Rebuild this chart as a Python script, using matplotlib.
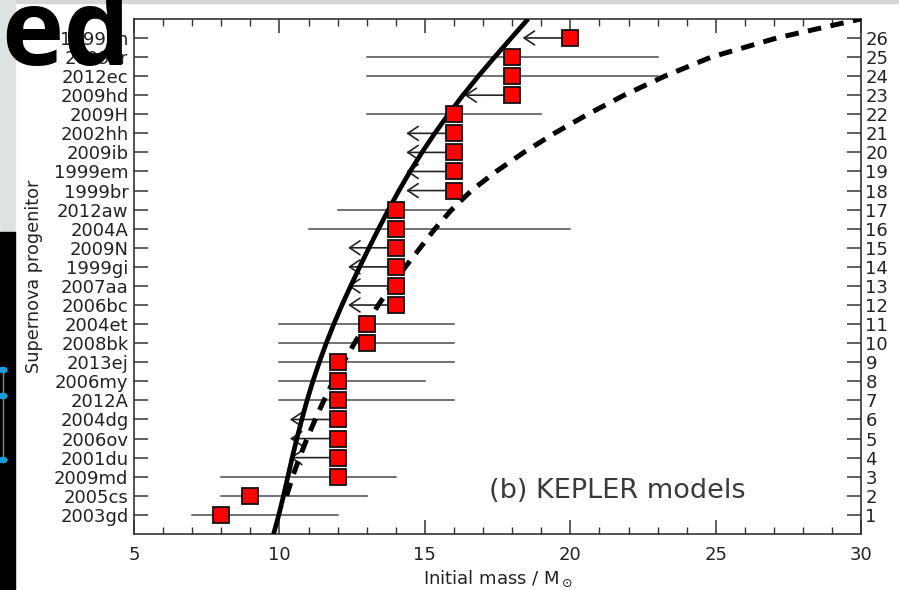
import matplotlib
matplotlib.use("Agg")
import matplotlib.pyplot as plt
from matplotlib.patches import Rectangle, Circle
from matplotlib.lines import Line2D
from matplotlib.ticker import MultipleLocator

# Supernova progenitors, bottom (row 1) to top (row 26)
names = ["2003gd", "2005cs", "2009md", "2001du", "2006ov", "2004dg", "2012A",
         "2006my", "2013ej", "2008bk", "2004et", "2006bc", "2007aa", "1999gi",
         "2009N", "2004A", "2012aw", "1999br", "1999em", "2009ib", "2002hh",
         "2009H", "2009hd", "2012ec", "2009kr", "1999an"]
mass = [8, 9, 12, 12, 12, 12, 12, 12, 12, 13, 13, 14, 14, 14, 14, 14, 14,
        16, 16, 16, 16, 16, 18, 18, 18, 20]
# mass range (None = upper limit only)
low = [7, 8, 8, None, None, None, 10, 10, 10, 10, 10, None, None, None, None,
       11, 12, None, None, None, None, 13, None, 13, 13, None]
high = [12, 13, 14, None, None, None, 16, 15, 16, 16, 16, None, None, None, None,
        20, 16, None, None, None, None, 19, None, 23, 23, None]

# model curves (mass, cumulative number)
solid_y = list(range(0, 28))
solid_x = [9.80, 9.98, 10.14, 10.29, 10.44, 10.60, 10.77, 10.95, 11.15, 11.37,
           11.61, 11.87, 12.15, 12.45, 12.76, 13.08, 13.41, 13.75, 14.11, 14.49,
           14.90, 15.34, 15.81, 16.31, 16.84, 17.40, 17.97, 18.55]
dash_y = list(range(2, 28))
dash_x = [10.25, 10.45, 10.69, 10.95, 11.23, 11.53, 11.85, 12.20, 12.58, 12.98,
          13.40, 13.85, 14.33, 14.84, 15.35, 15.92, 16.60, 17.45, 18.40, 19.45,
          20.60, 21.85, 23.25, 24.85, 27.10, 30.00]

rows = list(range(1, len(names) + 1))
arrow_len = 1.64
tc = "#222222"

fig = plt.figure(figsize=(8.99, 5.90), dpi=100)
ax = fig.add_axes([0.149, 0.095, 0.809, 0.873])

# error bars / upper limits
for r, m, lo, hi in zip(rows, mass, low, high):
    if lo is not None:
        ax.plot([lo, hi], [r, r], color="#4a4a4a", lw=1.1, zorder=2)
    else:
        ax.annotate("", xy=(m - arrow_len, r), xytext=(m, r),
                    arrowprops=dict(arrowstyle="->,head_length=0.75,head_width=0.5",
                                    color="#222222", lw=1.2,
                                    shrinkA=0, shrinkB=0), zorder=2)

ax.plot(solid_x, solid_y, color="black", lw=3.4, zorder=3, solid_capstyle="butt")
ax.plot(dash_x, dash_y, color="black", lw=3.6, ls=(0, (2.7, 1.9)), zorder=3)

ax.plot(mass, rows, ls="none", marker="s", ms=11.5, mfc="#ff0000",
        mec="#111111", mew=1.3, zorder=4)

ax.text(21.6, 2.25, "(b) KEPLER models", fontsize=19.5, color="#3a3a3a",
        ha="center", va="center")

ax.set_xlim(5, 30)
ax.set_ylim(0, 27)
ax.xaxis.set_major_locator(MultipleLocator(5))
ax.xaxis.set_minor_locator(MultipleLocator(1))
ax.set_yticks(rows)
ax.set_yticklabels(names)
ax.tick_params(axis="both", which="major", direction="in", length=10, width=1.1,
               color="#333333", labelsize=13, labelcolor=tc, top=True, pad=4)
ax.tick_params(axis="x", which="major", pad=9)
ax.tick_params(axis="x", which="minor", direction="in", length=5, width=1.0,
               color="#333333", top=True)
ax.tick_params(axis="y", which="minor", left=False, right=False)
for s in ax.spines.values():
    s.set_color("#333333")
    s.set_linewidth(1.2)

ax2 = ax.twinx()
ax2.set_ylim(0, 27)
ax2.set_yticks(rows)
ax2.set_yticklabels([str(r) for r in rows])
ax2.tick_params(axis="y", direction="in", length=10, width=1.1, color="#333333",
                labelsize=13, labelcolor=tc, pad=3)
for s in ax2.spines.values():
    s.set_visible(False)

ax.set_xlabel(r"Initial mass / M$_\odot$", fontsize=13, color=tc, labelpad=3)
ax.set_ylabel("Supernova progenitor", fontsize=12.7, color=tc, labelpad=8)

# slide surroundings visible in the screenshot
fig.patches.append(Rectangle((0, 587 / 590), 1, 3 / 590, transform=fig.transFigure,
                             color="#d6d6d6", zorder=5))
fig.patches.append(Rectangle((0, 358 / 590), 15 / 899, 232 / 590,
                             transform=fig.transFigure, color="#dde3e3", zorder=5))
fig.patches.append(Rectangle((0, 0), 15 / 899, 358 / 590,
                             transform=fig.transFigure, color="#000000", zorder=5))
fig.lines.append(Line2D([3 / 899, 3 / 899], [1 - 370 / 590, 1 - 460 / 590],
                        transform=fig.transFigure, color="#888888", lw=1, zorder=6))
for yy in [370, 396, 460]:
    fig.patches.append(Circle((3 / 899, 1 - yy / 590), 4 / 899,
                              transform=fig.transFigure, color="#1a9bd7", zorder=7))
fig.text(130 / 899, 1 - 65 / 590, "ed", fontsize=76, fontweight="bold",
         family="Open Sans", ha="right", va="baseline", color="black", zorder=10)

fig.savefig("out.png", dpi=100)
